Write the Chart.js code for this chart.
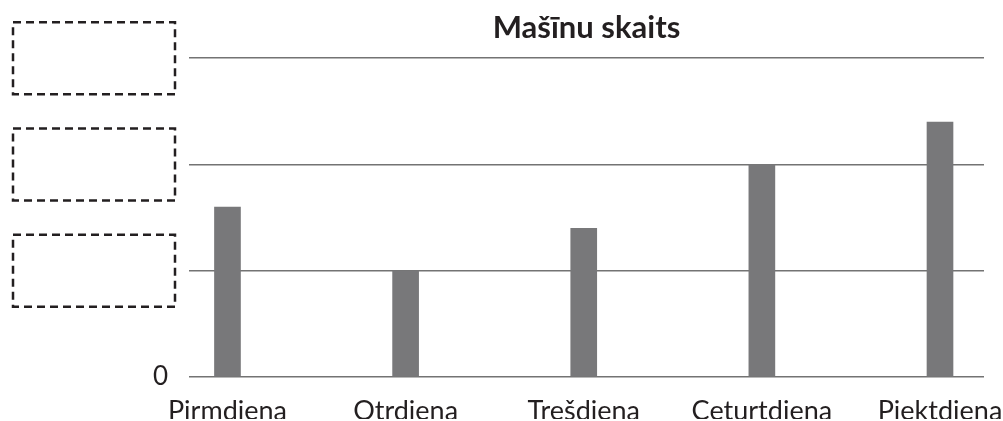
<!DOCTYPE html>
<html>
<head>
<meta charset="utf-8">
<script src="https://cdn.jsdelivr.net/npm/chart.js@4"></script>
<style>
  html, body { margin: 0; padding: 0; background: #fff; }
  #wrap { width: 1003px; height: 421px; }
</style>
</head>
<body>
<div id="wrap"><canvas id="carsChart"></canvas></div>
<script>
// Data
const days = ['Pirmdiena', 'Otrdiena', 'Trešdiena', 'Ceturtdiena', 'Piektdiena'];
const cars = [8, 5, 7, 10, 12];
const yTickValues = [0, 5, 10, 15];
const blankTicks = [5, 10, 15]; // answer boxes drawn instead of labels

// empty dashed boxes where the students write the tick values
const answerBoxes = {
  id: 'answerBoxes',
  afterDraw(chart) {
    const ctx = chart.ctx;
    const y = chart.scales.y;
    ctx.save();
    ctx.strokeStyle = '#231f20';
    ctx.lineWidth = 2.5;
    ctx.setLineDash([8, 5]);
    blankTicks.forEach(v => {
      const cy = y.getPixelForValue(v);
      ctx.strokeRect(13, cy - 36, 162, 72);
    });
    ctx.restore();
  }
};

const ctx = document.getElementById('carsChart').getContext('2d');
new Chart(ctx, {
  type: 'bar',
  data: {
    datasets: [{
      label: 'Mašīnu skaits',
      data: cars.map((v, i) => ({ x: i, y: v })),
      backgroundColor: '#78787a',
      barThickness: 26
    }]
  },
  options: {
    responsive: true,
    maintainAspectRatio: false,
    animation: false,
    layout: { padding: { top: 0, right: 19, bottom: 2, left: 0 } },
    scales: {
      x: {
        type: 'linear',
        offset: false,
        min: -0.216,
        max: 4.247,
        afterFit: scale => {
          scale.height = 42;
          scale.paddingLeft = 0;
          scale.paddingRight = 0;
        },
        grid: { display: false },
        border: { display: false },
        ticks: {
          stepSize: 1,
          includeBounds: false,
          autoSkip: false,
          maxRotation: 0,
          padding: 10,
          color: '#231f20',
          font: { family: 'Lato', size: 27 },
          callback: v => days[v] ?? ''
        }
      },
      y: {
        min: 0,
        max: 15,
        afterFit: scale => { scale.width = 189; },
        afterBuildTicks: scale => { scale.ticks = yTickValues.map(v => ({ value: v })); },
        grid: { color: '#737373', lineWidth: 1.5, drawTicks: false },
        border: { display: false },
        ticks: {
          padding: 21,
          color: '#231f20',
          font: { family: 'Lato', size: 26 },
          callback: v => (v === 0 ? '0' : '')
        }
      }
    },
    plugins: {
      legend: { display: false },
      tooltip: { enabled: false },
      title: {
        display: true,
        fullSize: false,
        text: 'Mašīnu skaits',
        color: '#231f20',
        font: { family: 'Lato', size: 31, weight: 'bold' },
        padding: { top: 9, bottom: 12 }
      }
    }
  },
  plugins: [answerBoxes]
});
</script>
</body>
</html>
